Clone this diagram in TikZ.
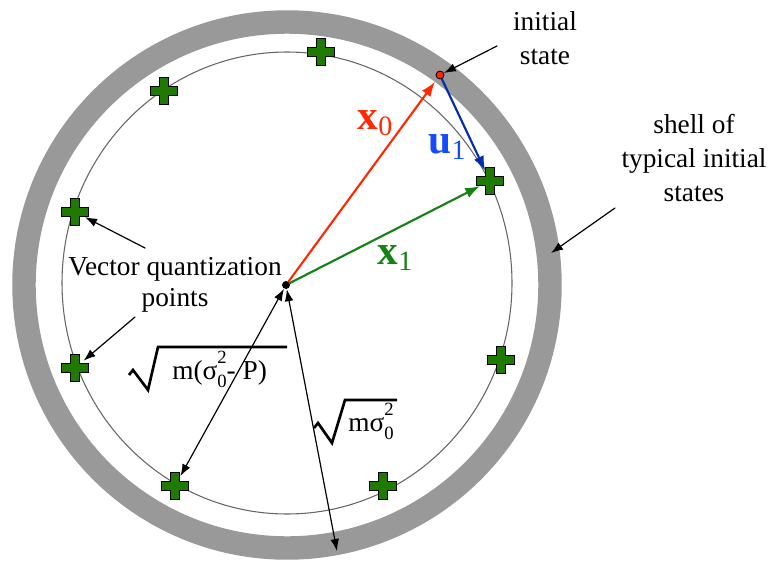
\documentclass[tikz,border=0pt]{standalone}
\usepackage{fontspec}
\setmainfont{Liberation Serif}
\usetikzlibrary{arrows.meta}
\definecolor{shellgray}{RGB}{153,153,153}
\definecolor{vqgreen}{RGB}{30,122,0}
\definecolor{xred}{RGB}{255,40,0}
\definecolor{ublue}{RGB}{0,45,170}
\definecolor{ulabel}{RGB}{20,75,255}
\definecolor{xgreen}{RGB}{20,130,20}
\newcommand{\sigzsq}{σ\rlap{\raisebox{-6pt}{\fontsize{14}{14}\selectfont 0}}\raisebox{12pt}{\fontsize{14}{14}\selectfont 2}}
\newcommand{\veclab}[2]{\textbf{#1}\raisebox{-5pt}{\fontsize{21}{21}\selectfont #2}}
\begin{document}
\begin{tikzpicture}[x=0.75pt,y=-0.75pt,line cap=round,line join=round,>={Latex[length=9pt,width=6.5pt]},
  lbl/.style={font=\fontsize{20.5}{25.5}\selectfont,align=center,inner sep=0pt},
  veclbl/.style={font=\fontsize{31}{31}\selectfont,inner sep=0pt},
  vec/.style={line width=1.6pt,-{Latex[length=11pt,width=8pt]}},
  pointer/.style={line width=0.9pt,->},
  radical/.style={line width=2pt,line join=miter,line cap=butt},
  qpt/.style={circle,inner sep=0pt,minimum size=16.5pt}]
  \useasboundingbox (0,0) rectangle (781,564);
  % shell of typical states and sphere of quantization points
  \draw[shellgray,line width=17.6pt] (287,285) circle [radius=263];
  \draw[black!60,line width=0.8pt] (287,283) ellipse [x radius=225,y radius=231];
  % vector quantization points
  \foreach \i/\px/\py in {1/321/52,2/164/91,3/75/212,4/75/368,5/175/486,6/383/486,7/501/360,8/490/181}{
    \node[qpt] (q\i) at (\px,\py) {};
    \filldraw[fill=vqgreen,draw=black,line width=0.8pt,line join=miter,shift={(\px,\py)}]
      (4.8,13.5) -- (4.8,4.8) -- (13.5,4.8) -- (13.5,-4.8) -- (4.8,-4.8) -- (4.8,-13.5)
      -- (-4.8,-13.5) -- (-4.8,-4.8) -- (-13.5,-4.8) -- (-13.5,4.8) -- (-4.8,4.8) -- (-4.8,13.5) -- cycle;
  }
  \node[circle,fill=black,inner sep=0pt,minimum size=6pt] (O) at (286,285) {};
  \node[circle,fill=xred,draw=black,line width=0.6pt,inner sep=0pt,minimum size=6pt] (s0) at (440,75) {};
  % state vectors
  \draw[vec,xred,shorten >=3pt] (O) -- (s0);
  \draw[vec,ublue] (s0) -- (q8);
  \draw[vec,xgreen] (O) -- (q8);
  \node[veclbl,xred] (x0lbl) at (375,123) {\veclab{x}{0}};
  \node[veclbl,ulabel] (u1lbl) at (447,147) {\veclab{u}{1}};
  \node[veclbl,xgreen] (x1lbl) at (395,258) {\veclab{x}{1}};
  % labels and pointers
  \node[lbl] (initlbl) at (545,38) {initial\\state};
  \node[lbl] (shelllbl) at (694,158) {shell of\\typical initial\\states};
  \node[lbl,font=\fontsize{20.5}{23.5}\selectfont] (vqlbl) at (175,285) {Vector quantization\\points};
  \coordinate (initTail) at (497,46);
  \coordinate (shellTail) at (615,208);
  \coordinate (shellHit) at (551,253);
  \coordinate (vqTailA) at (145,248);
  \coordinate (vqTailB) at (135,317);
  \coordinate (rimPt) at (337,551);
  \draw[pointer] (initTail) -- (s0);
  \draw[pointer] (shellTail) -- (shellHit);
  \draw[pointer] (vqTailA) -- (q3);
  \draw[pointer] (vqTailB) -- (q4);
  % radii
  \draw[pointer,<->] (O) -- (q5);
  \draw[pointer,<->] (O) -- (rimPt);
  \node[lbl,anchor=base west] (sqA) at (172,379) {m(\sigzsq- P)};
  \node[lbl,anchor=base west] (sqB) at (348,431) {m\sigzsq};
  \draw[radical] (129,375) -- (133,370) -- (148,390) -- (158,347) -- (287,347);
  \draw[radical] (314,428) -- (318,423) -- (332,443) -- (345,400) -- (397,400);
\end{tikzpicture}
\end{document}
